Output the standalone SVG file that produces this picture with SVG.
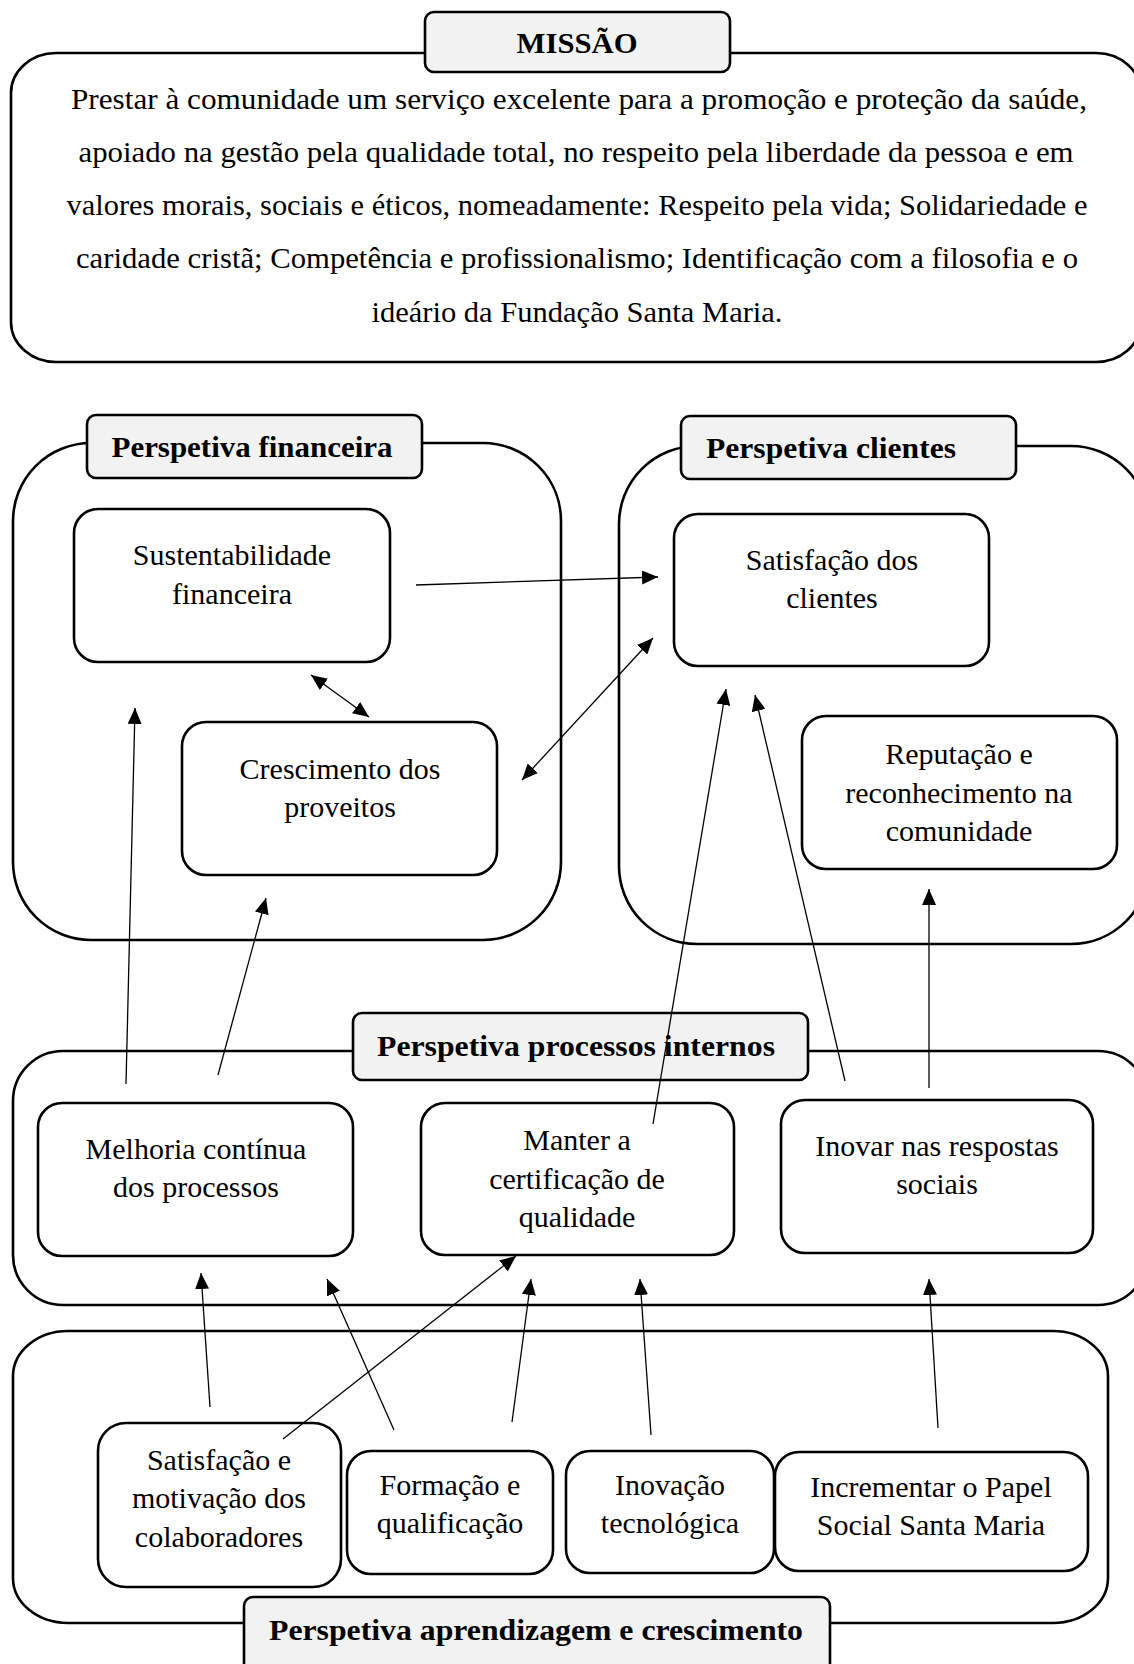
<svg xmlns="http://www.w3.org/2000/svg" width="1134" height="1664" viewBox="0 0 1134 1664">
<defs>
<marker id="ah" viewBox="0 0 16 14" refX="16" refY="7" markerWidth="16" markerHeight="14" markerUnits="userSpaceOnUse" orient="auto-start-reverse">
<path d="M0,0 L16,7 L0,14 Z" fill="#000"/>
</marker>
<style>
.outer{fill:#fff;stroke:#000;stroke-width:2.6}
.tab{fill:#f2f2f2;stroke:#000;stroke-width:2.6}
.node{fill:#fff;stroke:#000;stroke-width:2.6}
.t{font-family:"Liberation Serif","Times New Roman",serif;font-size:30px;fill:#000;text-anchor:middle}
.m{font-family:"Liberation Serif","Times New Roman",serif;font-size:30px;fill:#000;text-anchor:middle}
.h{font-family:"Liberation Serif","Times New Roman",serif;font-size:29px;font-weight:bold;fill:#000;text-anchor:middle}
.c{stroke:#000;stroke-width:1.3;fill:none;marker-end:url(#ah)}
.d{stroke:#000;stroke-width:1.3;fill:none;marker-end:url(#ah);marker-start:url(#ah)}
</style>
</defs>
<rect width="1134" height="1664" fill="#fff"/>

<g id="missao">
<rect class="outer" x="11" y="53" width="1130" height="309" rx="45" ry="40"/>
<rect class="tab" x="425" y="12" width="305" height="60" rx="9"/>
<text class="h" x="577" y="53" textLength="121" lengthAdjust="spacingAndGlyphs">MISSÃO</text>
<text class="m" x="579" y="109" textLength="1016" lengthAdjust="spacingAndGlyphs">Prestar à comunidade um serviço excelente para a promoção e proteção da saúde,</text>
<text class="m" x="576" y="162" textLength="995" lengthAdjust="spacingAndGlyphs">apoiado na gestão pela qualidade total, no respeito pela liberdade da pessoa e em</text>
<text class="m" x="577" y="215" textLength="1021" lengthAdjust="spacingAndGlyphs">valores morais, sociais e éticos, nomeadamente: Respeito pela vida; Solidariedade e</text>
<text class="m" x="577" y="268" textLength="1002" lengthAdjust="spacingAndGlyphs">caridade cristã; Competência e profissionalismo; Identificação com a filosofia e o</text>
<text class="m" x="577" y="322" textLength="411" lengthAdjust="spacingAndGlyphs">ideário da Fundação Santa Maria.</text>
</g>

<g id="perspetiva-financeira">
<rect class="outer" x="13" y="443" width="548" height="497" rx="78"/>
<rect class="tab" x="87" y="415" width="335" height="63" rx="9"/>
<text class="h" x="252" y="457" textLength="281" lengthAdjust="spacingAndGlyphs">Perspetiva financeira</text>
</g>

<g id="perspetiva-clientes">
<rect class="outer" x="619" y="446" width="530" height="498" rx="78"/>
<rect class="tab" x="681" y="416" width="335" height="63" rx="9"/>
<text class="h" x="831" y="458" textLength="250" lengthAdjust="spacingAndGlyphs">Perspetiva clientes</text>
</g>

<g id="perspetiva-processos">
<rect class="outer" x="13" y="1051" width="1135" height="254" rx="50"/>
<rect class="tab" x="353" y="1013" width="455" height="67" rx="9"/>
<text class="h" x="576" y="1056" textLength="398" lengthAdjust="spacingAndGlyphs">Perspetiva processos internos</text>
</g>

<g id="perspetiva-aprendizagem">
<rect class="outer" x="13" y="1331" width="1095" height="292" rx="55" ry="45"/>
<rect class="tab" x="244" y="1597" width="586" height="80" rx="9"/>
<text class="h" x="536" y="1640" textLength="534" lengthAdjust="spacingAndGlyphs">Perspetiva aprendizagem e crescimento</text>
</g>

<g id="sustentabilidade">
<rect class="node" x="74" y="509" width="316" height="153" rx="24"/>
<text class="t" x="232" y="565">Sustentabilidade</text>
<text class="t" x="232" y="604">financeira</text>
</g>

<g id="crescimento">
<rect class="node" x="182" y="722" width="315" height="153" rx="24"/>
<text class="t" x="340" y="779">Crescimento dos</text>
<text class="t" x="340" y="817">proveitos</text>
</g>

<g id="satisfacao-clientes">
<rect class="node" x="674" y="514" width="315" height="152" rx="24"/>
<text class="t" x="832" y="570">Satisfação dos</text>
<text class="t" x="832" y="608">clientes</text>
</g>

<g id="reputacao">
<rect class="node" x="802" y="716" width="315" height="153" rx="24"/>
<text class="t" x="959" y="764">Reputação e</text>
<text class="t" x="959" y="803">reconhecimento na</text>
<text class="t" x="959" y="841">comunidade</text>
</g>

<g id="melhoria">
<rect class="node" x="38" y="1103" width="315" height="153" rx="24"/>
<text class="t" x="196" y="1159">Melhoria contínua</text>
<text class="t" x="196" y="1197">dos processos</text>
</g>

<g id="manter">
<rect class="node" x="421" y="1103" width="313" height="152" rx="24"/>
<text class="t" x="577" y="1150">Manter a</text>
<text class="t" x="577" y="1189">certificação de</text>
<text class="t" x="577" y="1227">qualidade</text>
</g>

<g id="inovar">
<rect class="node" x="781" y="1100" width="312" height="153" rx="24"/>
<text class="t" x="937" y="1156">Inovar nas respostas</text>
<text class="t" x="937" y="1194">sociais</text>
</g>

<g id="satisfacao-colaboradores">
<rect class="node" x="98" y="1423" width="243" height="164" rx="28"/>
<text class="t" x="219" y="1470">Satisfação e</text>
<text class="t" x="219" y="1508">motivação dos</text>
<text class="t" x="219" y="1547">colaboradores</text>
</g>

<g id="formacao">
<rect class="node" x="347" y="1451" width="206" height="123" rx="24"/>
<text class="t" x="450" y="1495">Formação e</text>
<text class="t" x="450" y="1533">qualificação</text>
</g>

<g id="inovacao">
<rect class="node" x="566" y="1451" width="208" height="122" rx="24"/>
<text class="t" x="670" y="1495">Inovação</text>
<text class="t" x="670" y="1533">tecnológica</text>
</g>

<g id="incrementar">
<rect class="node" x="775" y="1452" width="313" height="119" rx="24"/>
<text class="t" x="931" y="1497">Incrementar o Papel</text>
<text class="t" x="931" y="1535">Social Santa Maria</text>
</g>

<g id="connectors">
<line class="c" x1="416" y1="585" x2="658" y2="577"/>
<line class="d" x1="311" y1="675" x2="369" y2="717"/>
<line class="d" x1="522" y1="780" x2="653" y2="638"/>
<line class="c" x1="126" y1="1084" x2="135" y2="708"/>
<line class="c" x1="218" y1="1075" x2="266" y2="898"/>
<line class="c" x1="653" y1="1124" x2="726" y2="689"/>
<line class="c" x1="845" y1="1081" x2="755" y2="695"/>
<line class="c" x1="929" y1="1088" x2="929" y2="889"/>
<line class="c" x1="210" y1="1407" x2="201" y2="1273"/>
<line class="c" x1="394" y1="1430" x2="327" y2="1279"/>
<line class="c" x1="283" y1="1439" x2="516" y2="1256"/>
<line class="c" x1="512" y1="1422" x2="531" y2="1279"/>
<line class="c" x1="651" y1="1435" x2="640" y2="1279"/>
<line class="c" x1="938" y1="1428" x2="929" y2="1279"/>
</g>
</svg>
